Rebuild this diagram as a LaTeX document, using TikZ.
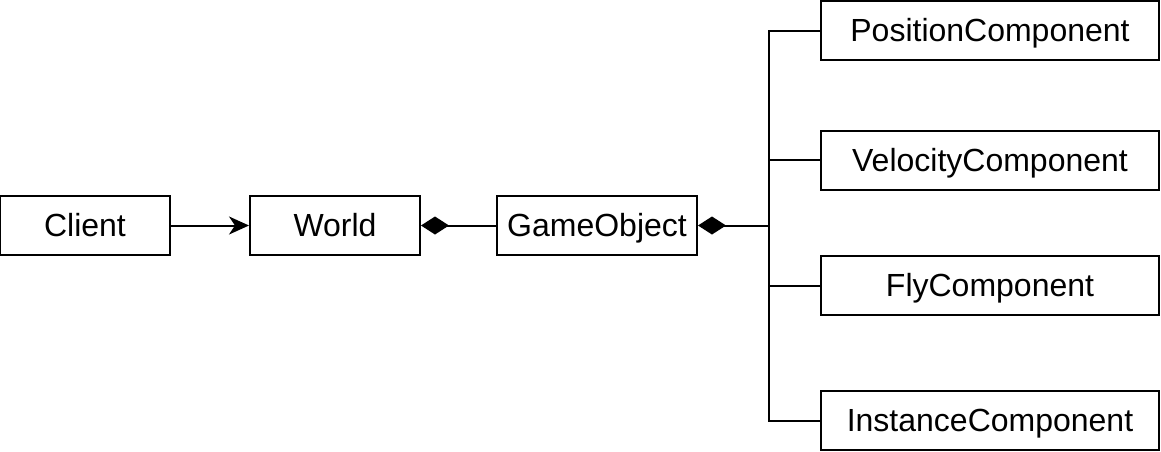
\documentclass[tikz,border=0pt]{standalone}
\usepackage{fontspec}
\setmainfont{Liberation Sans}
\usetikzlibrary{arrows.meta}
\begin{document}
\begin{tikzpicture}[x=0.5pt,y=-0.5pt,line width=1pt,
  cls/.style={draw, inner sep=0pt, minimum height=29.5pt, text height=11.4pt, text depth=0pt, font=\fontsize{16}{19}\selectfont},
  comp/.style={cls, minimum width=169pt}]
\useasboundingbox (0,0) rectangle (1161,451);
\node[cls, minimum width=85pt] (client) at (85,225.5) {Client};
\node[cls, minimum width=85pt] (world) at (335,225.5) {World};
\node[cls, minimum width=100pt] (game) at (597,225.5) {GameObject};
\node[comp] (pos) at (990,30.5) {PositionComponent};
\node[comp] (vel) at (990,160) {VelocityComponent};
\node[comp] (fly) at (990,285.5) {FlyComponent};
\node[comp] (inst) at (990,420.5) {InstanceComponent};
\coordinate (hub) at (769,225.5);

\draw[-{Stealth[length=10pt,width=9pt,inset=3pt]}] (client) -- (world);
\draw[{Diamond[length=14pt,width=9pt]}-] (world) -- (game);
\draw[{Diamond[length=14pt,width=9pt]}-] (game) -- (hub);
\draw (hub) |- (pos);
\draw (hub) |- (vel);
\draw (hub) |- (fly);
\draw (hub) |- (inst);
\end{tikzpicture}
\end{document}
